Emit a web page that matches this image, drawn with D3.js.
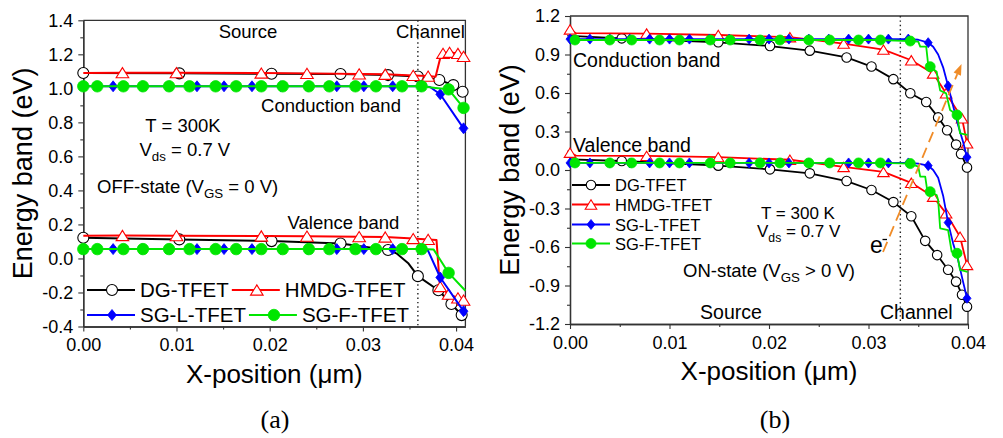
<!DOCTYPE html>
<html>
<head>
<meta charset="utf-8">
<script src="https://cdn.jsdelivr.net/npm/d3@7"></script>
<style>
  body { margin: 0; background: #fff; }
  svg { display: block; }
</style>
</head>
<body>
<svg id="fig" width="1003" height="438"></svg>
<script>
// ---------------- data ----------------
const seriesNames   = ["DG-TFET", "HMDG-TFET", "SG-L-TFET", "SG-F-TFET"];
const seriesColors  = ["#000000", "#ff0000", "#0000ff", "#00e600"];
const seriesSymbols = ["circle", "triangle", "diamond", "dot"];

// Points are [x (µm), E (eV), symbol flag]; flag 1 = symbol drawn at the point.
// (a) OFF-state
const offDG_CB = [[0,1.090,1],[0.0103,1.088,1],[0.0202,1.086,1],[0.0276,1.084,1],[0.0327,1.078,1],[0.0359,1.070,1],[0.0382,1.049,1],[0.0397,1.019,1],[0.0407,0.980,1],[0.041,0.965,0]];
const offDG_VB = [[0,0.122,1],[0.0103,0.112,1],[0.0202,0.102,1],[0.0276,0.088,1],[0.0327,0.050,1],[0.0336,0.030,0],[0.0349,-0.030,0],[0.0359,-0.104,1],[0.0381,-0.187,1],[0.0395,-0.268,1],[0.0406,-0.333,1],[0.041,-0.345,0]];
const offHM_CB = [[0,1.090,0],[0.0042,1.092,1],[0.0100,1.092,1],[0.0191,1.090,1],[0.0240,1.088,1],[0.0296,1.085,1],[0.0324,1.083,1],[0.0354,1.076,1],[0.0370,1.072,1],[0.0378,1.068,0],[0.0384,1.200,0],[0.0386,1.206,1],[0.0393,1.212,1],[0.0402,1.205,1],[0.0408,1.188,1],[0.041,1.180,0]];
const offHM_VB = [[0,0.133,0],[0.0042,0.135,1],[0.0100,0.134,1],[0.0191,0.132,1],[0.0240,0.131,1],[0.0296,0.128,1],[0.0324,0.126,1],[0.0354,0.117,1],[0.0370,0.112,1],[0.0379,0.108,0],[0.0382,-0.120,0],[0.0383,-0.165,1],[0.0392,-0.210,1],[0.0402,-0.232,1],[0.0408,-0.245,1],[0.041,-0.250,0]];
const offSL_CB = [[0,1.012,1],[0.0032,1.012,1],[0.0063,1.012,1],[0.0093,1.012,1],[0.0122,1.012,1],[0.0151,1.012,1],[0.0181,1.012,1],[0.0212,1.012,1],[0.0241,1.012,1],[0.0272,1.012,1],[0.0301,1.012,1],[0.0332,1.012,1],[0.0362,1.012,1],[0.0372,1.008,0],[0.0383,0.965,1],[0.0408,0.765,1],[0.041,0.740,0]];
const offSL_VB = [[0,0.055,1],[0.0032,0.055,1],[0.0063,0.055,1],[0.0093,0.055,1],[0.0122,0.055,1],[0.0151,0.055,1],[0.0181,0.055,1],[0.0212,0.055,1],[0.0241,0.055,1],[0.0272,0.055,1],[0.0301,0.055,1],[0.0332,0.055,1],[0.0362,0.055,1],[0.0370,0.045,0],[0.0383,-0.112,1],[0.0408,-0.310,1],[0.041,-0.335,0]];
const offSF_CB = [[0,1.012,1],[0.0015,1.012,1],[0.0043,1.012,1],[0.0064,1.012,1],[0.0092,1.012,1],[0.0114,1.012,1],[0.0142,1.012,1],[0.0164,1.012,1],[0.0191,1.012,1],[0.0214,1.012,1],[0.0242,1.012,1],[0.0264,1.012,1],[0.0292,1.012,1],[0.0314,1.012,1],[0.0342,1.012,1],[0.0363,1.012,1],[0.0378,1.002,0],[0.0392,0.994,1],[0.0408,0.885,1],[0.041,0.872,0]];
const offSF_VB = [[0,0.055,1],[0.0015,0.055,1],[0.0043,0.055,1],[0.0064,0.055,1],[0.0092,0.055,1],[0.0114,0.055,1],[0.0142,0.055,1],[0.0164,0.055,1],[0.0191,0.055,1],[0.0214,0.055,1],[0.0242,0.055,1],[0.0264,0.055,1],[0.0292,0.055,1],[0.0314,0.055,1],[0.0342,0.055,1],[0.0363,0.055,1],[0.0376,0.052,0],[0.0392,-0.085,1],[0.041,-0.190,0]];

// (b) ON-state
const onDG_CB = [[0,1.045,0],[0.0052,1.026,1],[0.0149,0.995,1],[0.0201,0.966,1],[0.0241,0.930,1],[0.0278,0.877,1],[0.0303,0.806,1],[0.0325,0.708,1],[0.0342,0.598,1],[0.0358,0.530,1],[0.0370,0.410,1],[0.0379,0.310,1],[0.0388,0.198,1],[0.0393,0.125,1],[0.0399,0.020,1]];
const onDG_VB = [[0,0.083,0],[0.0052,0.070,1],[0.0149,0.034,1],[0.0201,0.005,1],[0.0241,-0.026,1],[0.0278,-0.086,1],[0.0303,-0.156,1],[0.0325,-0.250,1],[0.0343,-0.360,1],[0.0357,-0.552,1],[0.0369,-0.663,1],[0.0380,-0.777,1],[0.0388,-0.870,1],[0.0394,-0.972,1],[0.0399,-1.065,1]];
const onHM_CB = [[0,1.095,1],[0.0006,1.066,0],[0.0077,1.063,1],[0.0149,1.052,1],[0.0221,1.035,1],[0.0275,0.985,1],[0.0315,0.938,1],[0.0343,0.855,1],[0.0365,0.752,1],[0.0378,0.598,1],[0.0394,0.403,1],[0.0399,0.208,1]];
const onHM_VB = [[0,0.135,1],[0.0006,0.112,0],[0.0077,0.110,1],[0.0149,0.100,1],[0.0221,0.080,1],[0.0275,0.024,1],[0.0315,-0.015,1],[0.0343,-0.100,1],[0.0365,-0.208,1],[0.0378,-0.338,1],[0.0392,-0.520,1],[0.0399,-0.740,1]];
const onSL_CB = [[0,1.020,1],[0.002,1.020,1],[0.004,1.020,1],[0.006,1.020,1],[0.008,1.020,1],[0.010,1.020,1],[0.012,1.020,1],[0.014,1.020,1],[0.016,1.020,1],[0.018,1.020,1],[0.020,1.020,1],[0.022,1.020,1],[0.024,1.020,1],[0.026,1.020,1],[0.028,1.020,1],[0.030,1.020,1],[0.032,1.020,1],[0.034,1.020,1],[0.035,1.015,0],[0.036,0.992,1],[0.0365,0.960,0],[0.037,0.900,0],[0.0375,0.800,0],[0.038,0.655,1],[0.0385,0.500,0],[0.039,0.350,0],[0.0395,0.220,0],[0.0399,0.100,1]];
const onSL_VB = [[0,0.055,1],[0.002,0.055,1],[0.004,0.055,1],[0.006,0.055,1],[0.008,0.055,1],[0.010,0.055,1],[0.012,0.055,1],[0.014,0.055,1],[0.016,0.055,1],[0.018,0.055,1],[0.020,0.055,1],[0.022,0.055,1],[0.024,0.055,1],[0.026,0.055,1],[0.028,0.055,1],[0.030,0.055,1],[0.032,0.055,1],[0.034,0.055,1],[0.035,0.050,0],[0.036,0.034,1],[0.0365,0.000,0],[0.037,-0.060,0],[0.0375,-0.200,0],[0.038,-0.410,1],[0.0385,-0.570,0],[0.039,-0.700,0],[0.0395,-0.870,0],[0.0399,-1.000,1]];
const onSF_CB = [[0,1.013,0],[0.0005,1.013,1],[0.0040,1.013,1],[0.0062,1.013,1],[0.0090,1.013,1],[0.0110,1.013,1],[0.0141,1.013,1],[0.0161,1.013,1],[0.0191,1.013,1],[0.0211,1.013,1],[0.0240,1.013,1],[0.0261,1.013,1],[0.0290,1.013,1],[0.0312,1.013,1],[0.0342,1.005,1],[0.0350,1.000,0],[0.0352,0.961,0],[0.0358,0.961,0],[0.0360,0.818,0],[0.0362,0.805,1],[0.03685,0.766,0],[0.0370,0.700,0],[0.0372,0.620,0],[0.0378,0.597,0],[0.0382,0.468,0],[0.0389,0.429,1],[0.0392,0.286,0],[0.03995,0.273,0]];
const onSF_VB = [[0,0.055,0],[0.0005,0.055,1],[0.0040,0.055,1],[0.0062,0.055,1],[0.0090,0.055,1],[0.0110,0.055,1],[0.0141,0.055,1],[0.0161,0.055,1],[0.0191,0.055,1],[0.0211,0.055,1],[0.0240,0.055,1],[0.0261,0.055,1],[0.0290,0.055,1],[0.0312,0.055,1],[0.0342,0.050,1],[0.0350,0.026,0],[0.0352,-0.052,0],[0.0357,-0.052,0],[0.0359,-0.156,0],[0.0362,-0.169,1],[0.03685,-0.195,0],[0.0370,-0.234,0],[0.0372,-0.454,0],[0.0380,-0.468,0],[0.03836,-0.637,0],[0.0389,-0.649,1],[0.0392,-0.779,0],[0.03995,-0.793,0]];

// axis ticks
const offXTicks = [0, 0.01, 0.02, 0.03, 0.04];
const offXMinor = [0.005, 0.015, 0.025, 0.035];
const offYTicks = [-0.4, -0.2, 0.0, 0.2, 0.4, 0.6, 0.8, 1.0, 1.2, 1.4];
const offYMinor = [-0.3, -0.1, 0.1, 0.3, 0.5, 0.7, 0.9, 1.1, 1.3];
const onXTicks  = [0, 0.01, 0.02, 0.03, 0.04];
const onXMinor  = [0.005, 0.015, 0.025, 0.035];
const onYTicks  = [-1.2, -0.9, -0.6, -0.3, 0.0, 0.3, 0.6, 0.9, 1.2];
const onYMinor  = [-1.05, -0.75, -0.45, -0.15, 0.15, 0.45, 0.75, 1.05];

// source/channel boundary and the electron tunnelling arrow (b)
const offBoundary = 0.0359;
const onBoundary  = 0.0332;
const tunnelArrow = [[0.03146, -0.639], [0.03935, 0.826]];

// ---------------- drawing ----------------
const SANS = '"Liberation Sans", Arial, Helvetica, sans-serif';
const SERIF = '"Liberation Serif", "DejaVu Serif", "Times New Roman", serif';
const svg = d3.select("#fig");

function symbolPath(kind, s) {
  const p = d3.path();
  if (kind === "circle" || kind === "dot") {
    p.arc(0, 0, s / 2, 0, 2 * Math.PI);
  } else if (kind === "triangle") {
    const w = s * 1.05, h = s * 0.85;
    p.moveTo(0, -h / 2); p.lineTo(w / 2, h / 2); p.lineTo(-w / 2, h / 2); p.closePath();
  } else if (kind === "diamond") {
    const w = s * 0.8, h = s;
    p.moveTo(0, -h / 2); p.lineTo(w / 2, 0); p.lineTo(0, h / 2); p.lineTo(-w / 2, 0); p.closePath();
  }
  return p.toString();
}

function styleSymbol(sel, i) {
  const kind = seriesSymbols[i], c = seriesColors[i];
  const open = kind === "circle" || kind === "triangle";
  sel.attr("fill", open ? "#fff" : c)
     .attr("stroke", c)
     .attr("stroke-width", open ? 1.1 : 0.8);
}

// text with sub/superscript pieces: [string, "sub"|"sup"|""]
function richText(g, x, y, parts, size, anchor) {
  const t = g.append("text").attr("x", x).attr("y", y)
    .attr("font-family", SANS).attr("font-size", size)
    .attr("text-anchor", anchor || "start").attr("fill", "#000");
  let shift = 0;
  parts.forEach(([s, kind]) => {
    let target = 0;
    if (kind === "sub") target = size * 0.32;
    if (kind === "sup") target = -size * 0.42;
    const ts = t.append("tspan").attr("dy", target - shift).text(s);
    if (kind) ts.attr("font-size", size * 0.72);
    shift = target;
  });
  return t;
}

function drawPanel(cfg) {
  const g = svg.append("g");
  const x = d3.scaleLinear().domain(cfg.xDomain).range([cfg.left, cfg.right]);
  const y = d3.scaleLinear().domain(cfg.yDomain).range([cfg.bottom, cfg.top]);

  // frame (top & right)
  g.append("path")
    .attr("d", `M${cfg.left},${cfg.top}H${cfg.right}V${cfg.bottom}`)
    .attr("fill", "none").attr("stroke", "#333").attr("stroke-width", 1.3);

  // axes
  const tickFont = g2 => g2.selectAll("text")
      .attr("font-family", SANS).attr("font-size", cfg.tickFont).attr("fill", "#000");
  const styleAxis = a => {
    a.select(".domain").attr("stroke", "#333").attr("stroke-width", 1.3);
    a.selectAll(".tick line").attr("stroke", "#333").attr("stroke-width", 1.1);
  };
  g.append("g").attr("transform", `translate(0,${cfg.bottom})`)
    .call(d3.axisBottom(x).tickValues(cfg.xMinor).tickSize(3).tickSizeOuter(0).tickFormat(""))
    .call(styleAxis);
  g.append("g").attr("transform", `translate(${cfg.left},0)`)
    .call(d3.axisLeft(y).tickValues(cfg.yMinor).tickSize(3).tickSizeOuter(0).tickFormat(""))
    .call(styleAxis);
  g.append("g").attr("transform", `translate(0,${cfg.bottom})`)
    .call(d3.axisBottom(x).tickValues(cfg.xTicks).tickSize(5).tickSizeOuter(0).tickPadding(7)
      .tickFormat(d => d.toFixed(2)))
    .call(styleAxis).call(tickFont);
  g.append("g").attr("transform", `translate(${cfg.left},0)`)
    .call(d3.axisLeft(y).tickValues(cfg.yTicks).tickSize(5).tickSizeOuter(0).tickPadding(5)
      .tickFormat(d => d.toFixed(1)))
    .call(styleAxis).call(tickFont);

  // axis titles
  g.append("text")
    .attr("x", (cfg.left + cfg.right) / 2).attr("y", cfg.bottom + 56)
    .attr("text-anchor", "middle").attr("font-family", SANS).attr("font-size", cfg.titleFont)
    .text("X-position (\u03bcm)");
  g.append("text")
    .attr("transform", `translate(${cfg.left - 51},${(cfg.top + cfg.bottom) / 2}) rotate(-90)`)
    .attr("text-anchor", "middle").attr("font-family", SANS).attr("font-size", cfg.titleFont + 1)
    .text("Energy band (eV)");

  // source/channel boundary
  g.append("line")
    .attr("x1", x(cfg.boundary)).attr("x2", x(cfg.boundary))
    .attr("y1", cfg.top).attr("y2", cfg.bottom)
    .attr("stroke", "#222").attr("stroke-width", 1.4).attr("stroke-dasharray", "1.4,3");

  // curves, one device at a time (line then symbols)
  const line = d3.line().x(d => x(d[0])).y(d => y(d[1]));
  cfg.curves.forEach((bands, i) => {
    bands.forEach(band => {
      g.append("path").attr("d", line(band))
        .attr("fill", "none").attr("stroke", seriesColors[i])
        .attr("stroke-width", cfg.lineWidth).attr("stroke-linejoin", "round");
    });
    bands.forEach(band => {
      g.selectAll(null).data(band.filter(d => d[2] === 1)).enter().append("path")
        .attr("transform", d => `translate(${x(d[0])},${y(d[1])})`)
        .attr("d", symbolPath(seriesSymbols[i], cfg.symbolSize[i]))
        .call(s => styleSymbol(s, i));
    });
  });

  return { g, x, y };
}

// ---------- panel (a) ----------
const A = drawPanel({
  left: 83.3, right: 465.4, top: 20.3, bottom: 326.5,
  xDomain: [0, 0.041], yDomain: [-0.4, 1.4],
  xTicks: offXTicks, xMinor: offXMinor, yTicks: offYTicks, yMinor: offYMinor,
  boundary: offBoundary, tickFont: 18, titleFont: 26, lineWidth: 2,
  symbolSize: [11, 12, 11, 11.5],
  curves: [[offDG_CB, offDG_VB], [offHM_CB, offHM_VB], [offSL_CB, offSL_VB], [offSF_CB, offSF_VB]]
});
richText(A.g, 248, 38, [["Source", ""]], 18.5, "middle");
richText(A.g, 396, 38, [["Channel", ""]], 18.5, "start");
richText(A.g, 331, 111.5, [["Conduction band", ""]], 18.5, "middle");
richText(A.g, 183, 131.5, [["T = 300K", ""]], 18.5, "middle");
richText(A.g, 139.5, 155.5, [["V", ""], ["ds", "sub"], [" = 0.7 V", ""]], 18.5, "start");
richText(A.g, 97, 192.5, [["OFF-state (V", ""], ["GS", "sub"], [" = 0 V)", ""]], 18.5, "start");
richText(A.g, 343.5, 228.5, [["Valence band", ""]], 18.5, "middle");

// legend (a): two entries per row, flowing left to right
(function () {
  const rows = [[0, 1], [2, 3]];
  const rowY = [290, 315];
  rows.forEach((row, r) => {
    let cx = 87;
    row.forEach(i => {
      const cy = rowY[r];
      A.g.append("line").attr("x1", cx).attr("x2", cx + 48).attr("y1", cy).attr("y2", cy)
        .attr("stroke", seriesColors[i]).attr("stroke-width", 2);
      A.g.append("path").attr("transform", `translate(${cx + 25},${cy})`)
        .attr("d", symbolPath(seriesSymbols[i], [11, 12, 11, 11.5][i]))
        .call(s => styleSymbol(s, i));
      const t = A.g.append("text").attr("x", cx + 53).attr("y", cy + 7)
        .attr("font-family", SANS).attr("font-size", 20.5).text(seriesNames[i]);
      cx = cx + 53 + t.node().getComputedTextLength() + 3;
    });
  });
})();

// ---------- panel (b) ----------
const B = drawPanel({
  left: 570, right: 968, top: 16, bottom: 324,
  xDomain: [0, 0.04], yDomain: [-1.2, 1.2],
  xTicks: onXTicks, xMinor: onXMinor, yTicks: onYTicks, yMinor: onYMinor,
  boundary: onBoundary, tickFont: 18, titleFont: 26, lineWidth: 1.8,
  symbolSize: [9.5, 11, 10, 10],
  curves: [[onDG_CB, onDG_VB], [onHM_CB, onHM_VB], [onSL_CB, onSL_VB], [onSF_CB, onSF_VB]]
});

// electron tunnelling path
(function () {
  const [p0, p1] = tunnelArrow.map(d => [B.x(d[0]), B.y(d[1])]);
  const ang = Math.atan2(p1[1] - p0[1], p1[0] - p0[0]);
  const L = 11, W = 4;
  const base = [p1[0] - L * Math.cos(ang), p1[1] - L * Math.sin(ang)];
  B.g.append("line").attr("x1", p0[0]).attr("y1", p0[1]).attr("x2", base[0]).attr("y2", base[1])
    .attr("stroke", "#f08c28").attr("stroke-width", 1.8).attr("stroke-dasharray", "11,6");
  const nx = -Math.sin(ang), ny = Math.cos(ang);
  B.g.append("path")
    .attr("d", `M${p1[0]},${p1[1]}L${base[0] + W * nx},${base[1] + W * ny}L${base[0] - W * nx},${base[1] - W * ny}Z`)
    .attr("fill", "#f08c28");
})();

richText(B.g, 573, 67, [["Conduction band", ""]], 19.5, "start");
richText(B.g, 573, 152, [["Valence band", ""]], 19.5, "start");
richText(B.g, 798, 219, [["T = 300 K", ""]], 17, "middle");
richText(B.g, 757, 236.5, [["V", ""], ["ds", "sub"], [" = 0.7 V", ""]], 17, "start");
richText(B.g, 683, 276.5, [["ON-state (V", ""], ["GS", "sub"], [" > 0 V)", ""]], 18.5, "start");
richText(B.g, 731, 318.5, [["Source", ""]], 19.5, "middle");
richText(B.g, 880, 318.5, [["Channel", ""]], 19.5, "start");
richText(B.g, 870, 253, [["e", ""]], 23, "start");
// superscript minus of the electron label
B.g.append("line").attr("x1", 882.5).attr("x2", 887).attr("y1", 239.5).attr("y2", 239.5)
  .attr("stroke", "#000").attr("stroke-width", 1.3);

// legend (b): one entry per row
(function () {
  const rowY = [185, 204.5, 224.5, 243.5];
  seriesNames.forEach((name, i) => {
    const cy = rowY[i];
    B.g.append("line").attr("x1", 572).attr("x2", 610).attr("y1", cy).attr("y2", cy)
      .attr("stroke", seriesColors[i]).attr("stroke-width", 1.8);
    B.g.append("path").attr("transform", `translate(591,${cy})`)
      .attr("d", symbolPath(seriesSymbols[i], [9.5, 11, 10, 10][i]))
      .call(s => styleSymbol(s, i));
    B.g.append("text").attr("x", 615).attr("y", cy + 6)
      .attr("font-family", SANS).attr("font-size", 16.5).text(name);
  });
})();

// panel captions
svg.append("text").attr("x", 275).attr("y", 428).attr("text-anchor", "middle")
  .attr("font-family", SERIF).attr("font-size", 26).text("(a)");
svg.append("text").attr("x", 775).attr("y", 428).attr("text-anchor", "middle")
  .attr("font-family", SERIF).attr("font-size", 26).text("(b)");
</script>
</body>
</html>
